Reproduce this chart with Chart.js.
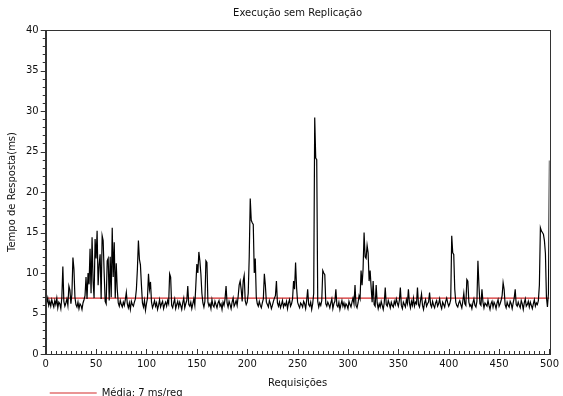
<!DOCTYPE html>
<html>
<head>
<meta charset="utf-8">
<script src="https://cdn.jsdelivr.net/npm/chart.js@4.4.0/dist/chart.umd.min.js"></script>
<style>
  html, body { margin: 0; padding: 0; background: #fff; }
</style>
</head>
<body>
<canvas id="grafico" width="563" height="396"></canvas>
<script>
// tempo de resposta por requisicao (ms)
const tempos = [
  6.8, 6.3, 6.9, 6.0, 6.5, 5.9, 6.7, 6.2, 5.8, 6.6,
  6.1, 6.9, 5.7, 6.4, 6.2, 5.6, 7.0, 10.8, 6.5, 5.9,
  6.3, 6.8, 6.0, 8.4, 7.9, 6.2, 7.4, 11.9, 10.5, 7.0,
  6.1, 5.8, 6.4, 5.6, 6.2, 6.0, 5.5, 6.3, 6.7, 7.2,
  9.5, 6.8, 10.0, 8.6, 13.0, 7.5, 14.4, 9.0, 6.9, 14.2,
  11.8, 15.2, 8.5, 11.0, 12.3, 6.8, 14.6, 14.0, 10.0, 6.5,
  6.2, 11.5, 11.8, 6.6, 12.0, 7.0, 15.6, 9.5, 13.8, 6.9,
  11.2, 8.0, 6.3, 5.9, 6.6, 6.1, 5.8, 6.4, 6.0, 6.7,
  7.6, 6.2, 5.7, 6.3, 5.5, 6.5, 6.1, 5.9, 6.4, 6.8,
  8.0, 10.5, 14.0, 11.7, 11.0, 8.5, 6.3, 5.8, 6.6, 5.4,
  6.2, 6.9, 9.9, 8.0, 8.9, 6.4, 5.7, 6.1, 6.6, 5.9,
  6.3, 5.5, 6.0, 6.7, 5.8, 6.2, 6.5, 5.6, 6.1, 6.4,
  5.9, 6.6, 6.2, 9.9, 9.5, 6.0, 5.7, 6.3, 6.8, 5.6,
  6.1, 6.5, 5.8, 6.4, 6.0, 5.5, 6.3, 6.9, 5.7, 6.2,
  6.6, 8.4, 6.1, 5.9, 6.4, 5.6, 6.2, 6.8, 6.0, 8.5,
  11.1, 10.0, 12.6, 11.5, 9.9, 7.5, 6.3, 5.8, 6.5, 11.5,
  11.3, 6.4, 5.9, 6.2, 5.6, 6.7, 6.0, 5.8, 6.5, 6.1,
  5.7, 6.3, 6.6, 5.9, 6.2, 5.5, 6.4, 6.0, 6.8, 8.4,
  6.3, 5.8, 6.5, 6.1, 5.6, 6.4, 6.9, 5.9, 6.2, 6.6,
  6.0, 7.1, 8.5, 9.0, 8.0, 6.5, 9.0, 9.7, 6.6, 6.1,
  6.4, 7.5, 12.0, 19.2, 16.5, 16.2, 16.0, 10.0, 11.8, 7.0,
  6.2, 5.9, 6.5, 6.0, 5.7, 6.3, 6.8, 9.9, 8.5, 6.4,
  6.1, 5.8, 6.6, 6.2, 5.6, 6.0, 6.5, 6.9, 7.2, 9.0,
  6.3, 5.9, 6.4, 5.7, 6.1, 6.6, 5.8, 6.2, 6.0, 6.5,
  5.6, 6.3, 6.7, 5.9, 6.2, 6.8, 9.0, 8.0, 11.3, 8.2,
  6.4, 6.0, 5.7, 6.3, 6.1, 5.8, 6.5, 6.2, 5.6, 6.6,
  8.0, 6.1, 5.9, 6.4, 5.5, 6.2, 7.5, 29.2, 24.2, 24.0,
  6.5, 5.8, 6.3, 6.0, 6.6, 10.3, 10.0, 9.8, 6.2, 5.9,
  6.4, 6.1, 5.7, 6.3, 6.8, 5.6, 6.2, 6.5, 8.0, 6.0,
  5.8, 6.4, 5.5, 6.1, 6.6, 5.9, 6.3, 5.7, 6.2, 6.0,
  5.6, 6.5, 6.1, 5.8, 6.4, 6.9, 6.2, 8.5, 6.0, 5.7,
  6.3, 7.2, 6.8, 10.3, 8.5, 10.5, 15.0, 12.0, 11.8, 13.4,
  12.5, 9.0, 10.3, 8.2, 6.4, 9.0, 6.1, 5.9, 8.5, 6.3,
  5.6, 6.2, 5.8, 6.5, 6.0, 5.5, 6.3, 8.2, 6.1, 5.9,
  6.6, 6.2, 5.7, 6.4, 6.0, 5.8, 6.5, 6.1, 6.8, 6.3,
  5.9, 6.6, 8.2, 6.0, 5.6, 6.4, 6.1, 5.8, 6.7, 6.2,
  8.0, 6.3, 5.7, 6.5, 6.0, 6.9, 5.9, 6.4, 6.2, 8.2,
  6.1, 5.8, 6.6, 7.4, 6.0, 5.5, 6.3, 6.7, 5.9, 6.2,
  6.4, 7.6, 6.1, 5.8, 6.5, 6.0, 5.7, 6.3, 6.6, 5.9,
  6.2, 6.8, 6.0, 5.6, 6.4, 6.1, 5.8, 6.5, 6.9, 6.3,
  5.9, 6.2, 6.7, 14.6, 12.5, 12.3, 8.0, 6.4, 6.0, 5.8,
  6.3, 6.6, 6.1, 5.7, 6.5, 7.5, 6.2, 6.0, 9.2, 9.0,
  6.4, 5.9, 6.1, 5.6, 6.3, 6.8, 6.0, 5.8, 6.5, 11.5,
  8.5, 6.2, 6.0, 8.0, 6.4, 5.7, 6.3, 6.1, 5.9, 6.6,
  6.0, 5.5, 6.2, 6.5, 5.8, 6.4, 6.1, 5.6, 6.3, 6.7,
  5.9, 6.2, 6.6, 7.2, 8.8, 8.0, 6.1, 5.7, 6.4, 6.0,
  5.8, 6.5, 6.2, 5.6, 6.3, 6.9, 8.0, 6.1, 5.9, 6.4,
  6.0, 5.7, 6.6, 6.2, 5.5, 6.3, 6.8, 5.9, 6.1, 6.5,
  5.8, 6.4, 6.0, 5.6, 6.2, 6.7, 5.9, 6.3, 6.1, 6.6,
  8.5, 15.6, 15.2, 15.0, 14.8, 14.0, 12.4, 7.0, 5.8, 7.5,
  23.9
];

// linha da media
const mediaX = [0, 500];
const mediaY = [6.9, 6.9];

const xTicks = [0, 50, 100, 150, 200, 250, 300, 350, 400, 450, 500];
const yTicks = [0, 5, 10, 15, 20, 25, 30, 35, 40];

const fonte = { family: "DejaVu Sans", size: 10 };

// caixa do grafico e marcas menores dos eixos
const moldura = {
  id: "moldura",
  afterDraw(chart) {
    const ctx = chart.ctx;
    const area = chart.chartArea;
    const sx = chart.scales.x;
    const sy = chart.scales.y;
    ctx.save();
    ctx.strokeStyle = "#333";
    ctx.lineWidth = 1;
    ctx.strokeRect(Math.round(area.left) + 0.5, Math.round(area.top) + 0.5,
      Math.round(area.right - area.left), Math.round(area.bottom - area.top));
    ctx.beginPath();
    for (let v = 0; v <= 500; v += 5) {
      const px = Math.round(sx.getPixelForValue(v)) + 0.5;
      const len = v % 50 === 0 ? 5 : 3;
      ctx.moveTo(px, area.bottom);
      ctx.lineTo(px, area.bottom - len);
    }
    for (let v = 0; v <= 40; v += 1) {
      const py = Math.round(sy.getPixelForValue(v)) + 0.5;
      const len = v % 5 === 0 ? 5 : 3;
      ctx.moveTo(area.left, py);
      ctx.lineTo(area.left - len, py);
    }
    ctx.stroke();
    ctx.restore();
  }
};

const grafico = new Chart(document.getElementById("grafico").getContext("2d"), {
  type: "line",
  data: {
    datasets: [
      {
        label: "Tempo de Resposta",
        data: tempos.map((v, i) => ({ x: i, y: v })),
        borderColor: "#000",
        borderWidth: 1.2,
        pointRadius: 0,
        tension: 0,
      },
      {
        label: "Média: 7 ms/req",
        data: mediaX.map((x, i) => ({ x: x, y: mediaY[i] })),
        borderColor: "#d42a2a",
        backgroundColor: "#d42a2a",
        borderWidth: 1.2,
        pointRadius: 0,
        pointStyle: "line",
      },
    ],
  },
  options: {
    responsive: false,
    animation: false,
    layout: { padding: { left: 2, right: -2, top: 0, bottom: -12 } },
    plugins: {
      title: {
        display: true,
        fullSize: false,
        text: "Execução sem Replicação",
        color: "#111",
        font: { family: "DejaVu Sans", size: 10, weight: "normal" },
        padding: { top: 7, bottom: 11 },
      },
      legend: {
        position: "bottom",
        align: "start",
        fullSize: false,
        labels: {
          filter: (item) => item.datasetIndex === 1,
          usePointStyle: true,
          pointStyleWidth: 47,
          padding: 4,
          color: "#111",
          font: fonte,
        },
      },
      tooltip: { enabled: false },
    },
    scales: {
      x: {
        type: "linear",
        min: 0,
        max: 500,
        afterBuildTicks: (s) => { s.ticks = xTicks.map((v) => ({ value: v })); },
        grid: { display: false, drawTicks: false },
        border: { display: true, color: "#333" },
        ticks: { color: "#111", font: fonte, padding: 4, maxRotation: 0 },
        title: {
          display: true,
          text: "Requisições",
          color: "#111",
          font: fonte,
          padding: { top: 3, bottom: -5 },
        },
      },
      y: {
        min: 0,
        max: 40,
        afterBuildTicks: (s) => { s.ticks = yTicks.map((v) => ({ value: v })); },
        grid: { display: false, drawTicks: false },
        border: { display: true, color: "#333" },
        ticks: { color: "#111", font: fonte, padding: 7 },
        title: {
          display: true,
          text: "Tempo de Resposta(ms)",
          color: "#111",
          font: fonte,
          padding: { top: 4, bottom: 1 },
        },
      },
    },
  },
  plugins: [moldura],
});
</script>
</body>
</html>
